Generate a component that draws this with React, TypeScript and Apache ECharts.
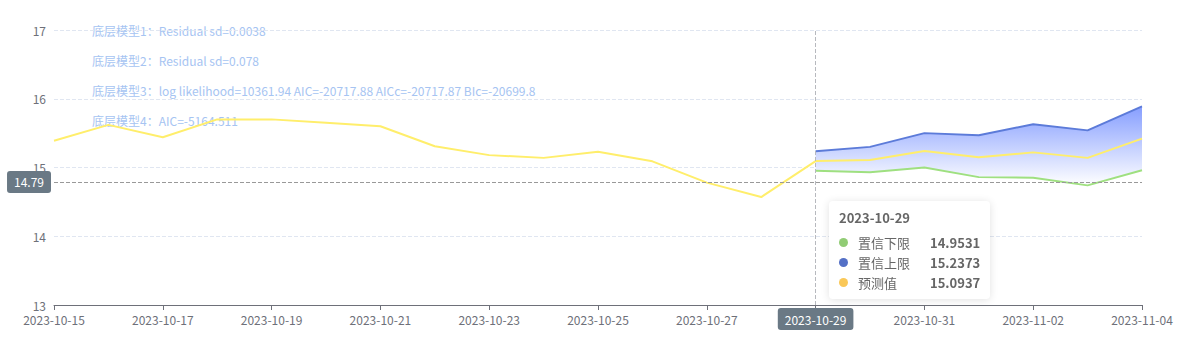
import React, { useEffect, useRef } from 'react';
import * as echarts from 'echarts';

const dates = [
  '2023-10-15', '2023-10-16', '2023-10-17', '2023-10-18', '2023-10-19', '2023-10-20', '2023-10-21',
  '2023-10-22', '2023-10-23', '2023-10-24', '2023-10-25', '2023-10-26', '2023-10-27', '2023-10-28',
  '2023-10-29', '2023-10-30', '2023-10-31', '2023-11-01', '2023-11-02', '2023-11-03', '2023-11-04',
];
const forecast = [
  15.39, 15.62, 15.44, 15.7, 15.7, 15.65, 15.6, 15.31, 15.18, 15.14, 15.23, 15.09, 14.78, 14.57,
  15.0937, 15.11, 15.24, 15.15, 15.22, 15.14, 15.42,
];
const lowerBound = [
  null, null, null, null, null, null, null, null, null, null, null, null, null, null,
  14.9531, 14.93, 15.0, 14.86, 14.85, 14.74, 14.96,
];
const upperBound = [
  null, null, null, null, null, null, null, null, null, null, null, null, null, null,
  15.2373, 15.3, 15.5, 15.47, 15.63, 15.54, 15.89,
];
const seriesNames = ['置信下限', '置信上限', '预测值'];
const seriesColors = ['#91cc75', '#5470c6', '#fac858'];
const modelNotes = [
  '底层模型1：Residual sd=0.0038',
  '底层模型2：Residual sd=0.078',
  '底层模型3：log likelihood=10361.94 AIC=-20717.88 AICc=-20717.87 BIc=-20699.8',
  '底层模型4：AIC=-5164.511',
];
const yMin = 13;
const yMax = 17;
const hoverDate = '2023-10-29';
const hoverValue = 14.79;

const FONT = '"Microsoft YaHei", "Noto Sans CJK SC", "Noto Sans", sans-serif';

export default function App() {
  const ref = useRef<HTMLDivElement>(null);
  useEffect(() => {
    if (!ref.current) return;
    document.body.style.margin = '0';
    const chart = echarts.init(ref.current, null, { renderer: 'svg' });
    const upperDiff = upperBound.map((u, i) =>
      u == null || lowerBound[i] == null ? null : +(u - (lowerBound[i] as number)).toFixed(4)
    );
    const rawByName: Record<string, (number | null)[]> = {
      [seriesNames[0]]: lowerBound,
      [seriesNames[1]]: upperBound,
      [seriesNames[2]]: forecast,
    };
    const option: any = {
      animation: false,
      textStyle: { fontFamily: FONT },
      grid: { left: 54, right: 47, top: 30, bottom: 47 },
      tooltip: {
        trigger: 'axis',
        axisPointer: {
          type: 'cross',
          label: { backgroundColor: '#6a7985', color: '#fff', fontSize: 12 },
          crossStyle: { color: '#999', type: 'dashed', width: 1 },
        },
        alwaysShowContent: true,
        transitionDuration: 0,
        padding: 10,
        borderWidth: 0,
        borderColor: '#fff',
        backgroundColor: '#fff',
        extraCssText: 'box-shadow: 0 1px 8px rgba(0,0,0,0.12); border-radius: 4px;',
        position: [829, 201],
        formatter: (params: any[]) => {
          const idx = params[0].dataIndex;
          let html = `<div style="font-family:${FONT.replace(/"/g, "'")};line-height:13px;">`;
          html += `<div style="font-size:13px;color:#666;font-weight:bold;line-height:13px;height:13px;">${dates[idx]}</div>`;
          params.forEach((p: any, k: number) => {
            const v = rawByName[p.seriesName][idx];
            if (v == null) return;
            html += `<div style="margin-top:${k === 0 ? 12 : 7}px;line-height:13px;height:13px;">` +
              `<span style="display:inline-block;vertical-align:top;margin-top:2px;margin-right:10px;border-radius:5px;width:9px;height:9px;background-color:${seriesColors[seriesNames.indexOf(p.seriesName)]};"></span>` +
              `<span style="font-size:13px;color:#666;">${p.seriesName}</span>` +
              `<span style="float:right;margin-left:20px;font-size:13px;color:#666;font-weight:bold;">${v}</span></div>`;
          });
          html += '</div>';
          return html;
        },
      },
      xAxis: {
        type: 'category',
        data: dates,
        boundaryGap: false,
        axisLabel: { interval: 1, color: '#6e7079', fontSize: 12 },
        axisLine: { lineStyle: { color: '#6e7079' } },
      },
      yAxis: {
        type: 'value',
        min: yMin,
        max: yMax,
        interval: 1,
        axisLabel: { color: '#6e7079', fontSize: 12 },
        splitLine: { lineStyle: { type: 'dashed', color: '#e0e6f1' } },
      },
      graphic: modelNotes.map((t, i) => ({
        type: 'text',
        left: 92,
        top: 24 + i * 30,
        silent: true,
        style: { text: t, fill: '#a6c4f2', fontSize: 12, fontFamily: FONT },
      })),
      series: [
        {
          name: seriesNames[0],
          type: 'line',
          data: lowerBound,
          stack: 'ci',
          symbol: 'none',
          lineStyle: { color: seriesColors[0], width: 2 },
          itemStyle: { color: seriesColors[0] },
        },
        {
          name: seriesNames[1],
          type: 'line',
          data: upperDiff,
          stack: 'ci',
          symbol: 'none',
          lineStyle: { color: seriesColors[1], width: 2 },
          itemStyle: { color: seriesColors[1] },
          areaStyle: {
            opacity: 1,
            color: new echarts.graphic.LinearGradient(0, 0, 0, 1, [
              { offset: 0, color: '#7a90f5' },
              { offset: 1, color: '#ffffff' },
            ]),
          },
        },
        {
          name: seriesNames[2],
          type: 'line',
          data: forecast,
          symbol: 'none',
          lineStyle: { color: '#fdd962', width: 2 },
          itemStyle: { color: seriesColors[2] },
        },
      ],
    };
    chart.setOption(option);
    const px = chart.convertToPixel({ gridIndex: 0 }, [hoverDate, hoverValue]) as number[];
    chart.dispatchAction({ type: 'showTip', x: px[0], y: px[1] });
    return () => chart.dispose();
  }, []);
  return <div ref={ref} style={{ width: 1189, height: 352 }} />;
}
